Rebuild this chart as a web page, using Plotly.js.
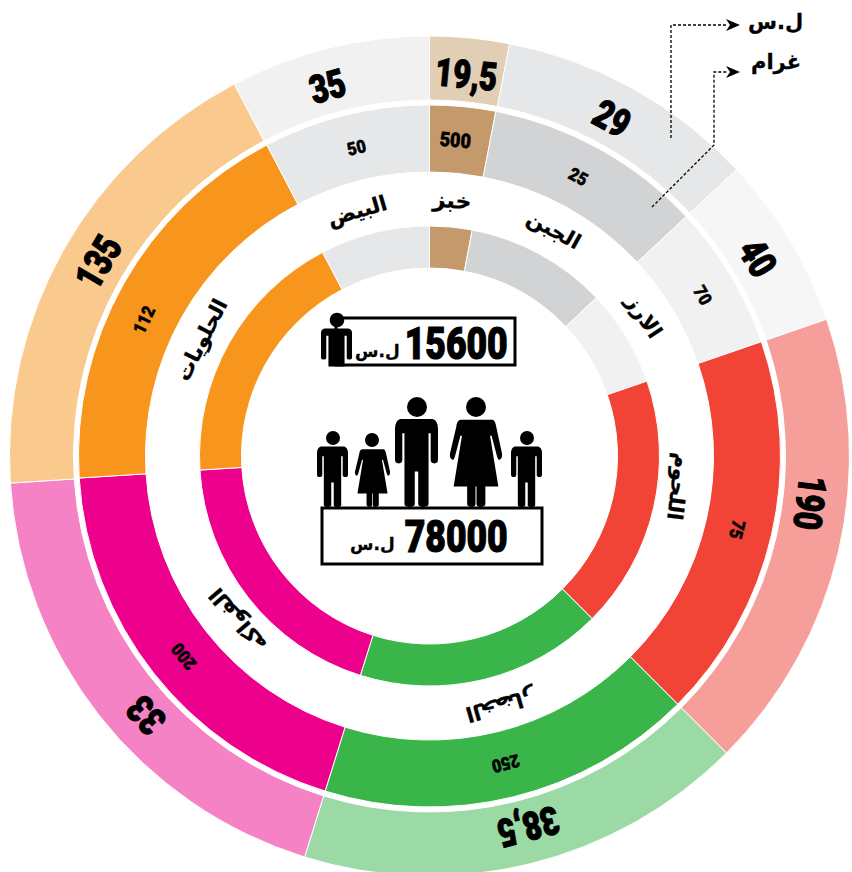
<!DOCTYPE html>
<html><head><meta charset="utf-8">
<script src="https://cdn.plot.ly/plotly-3.0.1.min.js"></script>
<style>html,body{margin:0;padding:0;background:#fff;overflow:hidden;width:852px;height:872px}#c{width:852px;height:880px}</style>
</head><body><div id="c"></div>
<script>
// Data
const categories = ['خبز','الجبن','الارز','اللحوم','الخضار','الفواكه','الحلويات','البيض'];
const priceLabels = ['19,5','29','40','190','38,5','33','135','35'];
const gramLabels = ['500','25','70','75','250','200','112','50'];
const outerSweep = [11,36,24,64,62.3,69,66,27.7];
const middleSweep = [10.9,36.1,24,64,62.3,69.1,66,27.6];
const innerSweep = [10.7,35.8,24.5,64,62.5,69,65.8,27.7];
const outerColors = ['#E2CDB5','#E6E7E8','#F6F6F6','#F69F9A','#9BD9A5','#F582C4','#F9C98E','#F1F1F2'];
const ringColors = ['#C49A6C','#D1D3D4','#F1F1F2','#F14336','#3AB54A','#EC008C','#F8951D','#E6E7E8'];
const priceAngles = [5.4,28.4,58.8,97,165,227.6,300.4,344.5];
const gramAngles = [4.7,28,59.6,103.5,166,230.7,295.4,346.7];
const catAngles = [5,28.8,56.8,97,164,229.5,297,343.6];
const catRadii = [256,258,256,250,259,252,256,255];
const personPrice = '15600';
const familyPrice = '78000';
const currency = 'ل.س';
const gramWord = 'غرام';

const W=852,H=880,cx=429.5,cy=456;
const fx=x=>x/W, fy=y=>1-y/H;
const pol=(r,d)=>{const a=d*Math.PI/180;return [cx+r*Math.sin(a),cy-r*Math.cos(a)];};
function ring(vals,colors,rO,rI){return {type:'pie',values:vals,sort:false,direction:'clockwise',rotation:0,
  hole:rI/rO,textinfo:'none',hoverinfo:'skip',showlegend:false,
  marker:{colors:colors,line:{color:'#fff',width:1}},
  domain:{x:[fx(cx-rO),fx(cx+rO)],y:[fy(cy+rO),fy(cy-rO)]}};}
const data=[ring(outerSweep,outerColors,420,356),ring(middleSweep,ringColors,351,284),ring(innerSweep,ringColors,230,188)];

const NUM='"Roboto",sans-serif', AR='"DejaVu Sans","Noto Sans",sans-serif';
const anns=[];
function txt(x,y,t,size,rot,fam){anns.push({xref:'paper',yref:'paper',x:fx(x),y:fy(y),xanchor:'center',yanchor:'middle',
  text:t,showarrow:false,textangle:rot,font:{family:fam,size:size,color:'#000',weight:fam===NUM?900:700}});}
priceLabels.forEach((t,i)=>{const p=pol(383,priceAngles[i]);txt(p[0],p[1],t,39,priceAngles[i],NUM);});
gramLabels.forEach((t,i)=>{const p=pol(317,gramAngles[i]);txt(p[0],p[1],t,i==0?20:18,gramAngles[i],NUM);});
categories.forEach((t,i)=>{const p=pol(catRadii[i],catAngles[i]);txt(p[0],p[1],t,i==0?22:21,catAngles[i],AR);});
txt(456,343,personPrice,45,0,NUM);
txt(456,536,familyPrice,45,0,NUM);
txt(377,351,currency,17,0,AR);
txt(372,544,currency,17,0,AR);
txt(775,22,currency,21,0,AR);
txt(776,62,gramWord,21,0,AR);

const shapes=[];
const P=(x,y)=>fx(x)+','+fy(y);
function rect(x0,y0,x1,y1,w){shapes.push({type:'rect',xref:'paper',yref:'paper',x0:fx(x0),x1:fx(x1),y0:fy(y0),y1:fy(y1),line:{color:'#000',width:w},fillcolor:'rgba(0,0,0,0)'});}
function head(x,y,r){shapes.push({type:'circle',xref:'paper',yref:'paper',x0:fx(x-r),x1:fx(x+r),y0:fy(y-r),y1:fy(y+r),fillcolor:'#000',line:{width:0}});}
function figure(pts,x,y,w,h){
  const s=pts.map(c=>{const n=c.slice(1);let o=c[0];for(let i=0;i<n.length;i+=2){o+=' '+P(x+n[i]*w,y+n[i+1]*h);}return o;}).join(' ')+' Z';
  shapes.push({type:'path',xref:'paper',yref:'paper',path:s,fillcolor:'#000',line:{width:0}});}
const man=[['M',0,.12],['Q',0,.03,.12,.01],['L',.88,.01],['Q',1,.03,1,.12],['L',1,.47],['Q',1,.51,.915,.51],['Q',.83,.51,.83,.47],['L',.83,.17],['L',.78,.17],['L',.78,.97],['Q',.77,1,.66,1],['Q',.55,1,.54,.97],['L',.54,.6],['L',.46,.6],['L',.46,.97],['Q',.45,1,.34,1],['Q',.23,1,.22,.97],['L',.22,.17],['L',.17,.17],['L',.17,.47],['Q',.17,.51,.085,.51],['Q',0,.51,0,.47]];
const woman=[['M',.2,.02],['L',.82,.02],['Q',.87,.03,.89,.1],['L',1,.4],['Q',1.01,.46,.95,.47],['Q',.92,.47,.9,.42],['L',.8,.2],['L',.77,.2],['L',.93,.77],['L',.68,.77],['L',.68,.97],['Q',.67,1,.58,1],['Q',.52,1,.51,.97],['L',.51,.77],['L',.49,.77],['L',.49,.97],['Q',.48,1,.42,1],['Q',.34,1,.33,.97],['L',.33,.77],['L',.07,.77],['L',.23,.2],['L',.2,.2],['L',.1,.42],['Q',.08,.47,.05,.47],['Q',-.01,.46,0,.4],['L',.12,.1],['Q',.13,.03,.2,.02]];
const solo=[['M',0,.12],['Q',0,.03,.12,.01],['L',.88,.01],['Q',1,.03,1,.12],['L',1,.78],['Q',1,.82,.915,.82],['Q',.83,.82,.83,.78],['L',.83,.2],['L',.76,.2],['L',.76,1],['L',.24,1],['L',.24,.2],['L',.17,.2],['L',.17,.78],['Q',.17,.82,.085,.82],['Q',0,.82,0,.78]];
rect(336,318,515,365,3); rect(322,508,542,564,3);
figure(solo,321,328,31,38.5); head(337,320,7.3);
figure(man,395,418,43,89); head(417,407,10);
figure(woman,450,418,52,89); head(476,407,10);
figure(man,317,446,31,61); head(333,438,7);
figure(woman,355,448,35,59); head(372,440,7);
figure(man,511,446,31,61); head(527,438,7);
function dash(pts){shapes.push({type:'path',xref:'paper',yref:'paper',path:pts.map((p,i)=>(i?'L ':'M ')+P(p[0],p[1])).join(' '),line:{color:'#000',width:1.3,dash:'3px,2px'}});}
function arrow(x,y){shapes.push({type:'path',xref:'paper',yref:'paper',path:'M '+P(x,y-6)+' L '+P(x+14,y)+' L '+P(x,y+6)+' L '+P(x+4,y)+' Z',fillcolor:'#000',line:{width:0}});}
dash([[671,138],[671,25],[728,25]]); arrow(726,25);
dash([[652,207],[714,145],[714,72],[728,72]]); arrow(726,72);

Plotly.newPlot('c',data,{width:W,height:H,margin:{l:0,r:0,t:0,b:0,pad:0},paper_bgcolor:'#fff',showlegend:false,annotations:anns,shapes:shapes},{staticPlot:true,displayModeBar:false}).then(()=>{
  document.querySelectorAll('.annotation-text').forEach(e=>{
    if(/^[0-9]/.test(e.textContent)){
      const b=e.getBBox(), c=b.x+b.width/2, size=parseFloat(e.style.fontSize);
      const s=size>30?.79:.9;
      e.setAttribute('transform','translate('+c+',0) scale('+s+',1) translate('+(-c)+',0)');
      e.style.stroke='#000'; e.style.strokeWidth=size>30?'1.2px':'.5px';
    } else { e.style.stroke='#000'; e.style.strokeWidth='.3px'; }
  });
});
</script></body></html>
